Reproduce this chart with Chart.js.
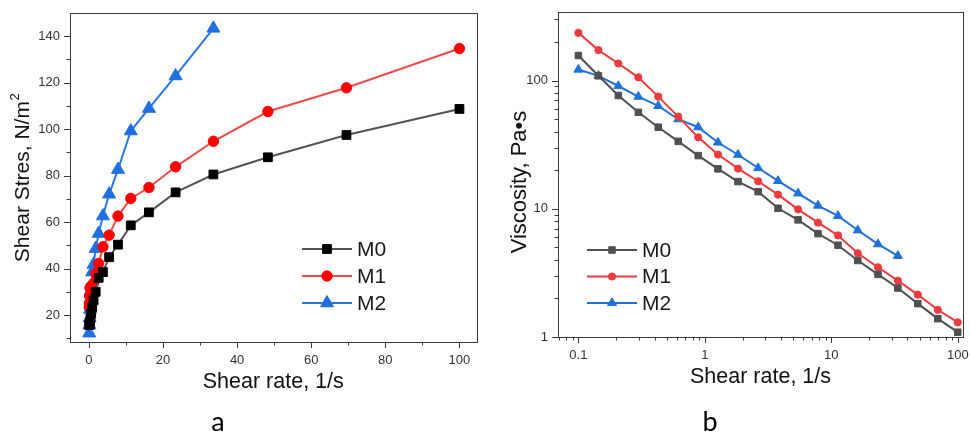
<!DOCTYPE html>
<html>
<head>
<meta charset="utf-8">
<script src="https://cdn.jsdelivr.net/npm/chart.js@4.4.1/dist/chart.umd.min.js"></script>
<style>
	html, body { margin: 0; padding: 0; background: #fff; }
	#wrap { position: relative; width: 971px; height: 433px; overflow: hidden; }
	#stressChart { position: absolute; left: 0; top: 0; }
	#viscosityChart { position: absolute; left: 490px; top: 0; }
</style>
</head>
<body>
<div id="wrap">
	<canvas id="stressChart" width="485" height="433"></canvas>
	<canvas id="viscosityChart" width="481" height="433"></canvas>
</div>
<script>
// shear rates, 1/s (same steps for every sample, M2 stops at 33.6)
const shearRates = [0.1, 0.144, 0.207, 0.298, 0.428, 0.616, 0.886, 1.27, 1.83, 2.64, 3.79, 5.46, 7.85, 11.3, 16.2, 23.4, 33.6, 48.3, 69.5, 100];

// shear stress, N/m2
const stressM0 = [15.7, 15.7, 15.8, 16.9, 18.5, 20.7, 23.3, 26.3, 30.0, 36.0, 38.5, 44.9, 50.3, 58.6, 64.2, 72.8, 80.5, 87.9, 97.5, 108.7];
const stressM1 = [23.4, 24.9, 28.2, 31.6, 32.1, 32.3, 32.0, 33.7, 37.9, 42.2, 49.4, 54.4, 62.6, 70.2, 74.9, 83.8, 94.8, 107.6, 117.8, 134.7];
const stressM2 = [12.2, 15.7, 18.8, 22.4, 27.2, 30.8, 38.5, 41.8, 48.6, 55.1, 62.6, 72.0, 82.6, 99.2, 108.9, 122.9, 143.4];

// viscosity, Pa*s
const viscM0 = [157, 109, 76.5, 56.6, 43.3, 33.6, 26.0, 20.5, 16.3, 13.6, 10.1, 8.2, 6.4, 5.2, 3.95, 3.08, 2.41, 1.82, 1.39, 1.09];
const viscM1 = [236, 173, 136, 106, 75, 52.4, 36.1, 26.5, 20.6, 16.4, 12.9, 9.9, 7.8, 6.2, 4.5, 3.5, 2.75, 2.14, 1.63, 1.30];
const viscM2 = [122, 109, 90.8, 75, 63.5, 50, 43.3, 32.9, 26.4, 20.8, 16.5, 13.2, 10.6, 8.8, 6.8, 5.3, 4.3];

const seriesNames = ['M0', 'M1', 'M2'];

// axis ticks (labelled ones are major)
const rateTicksLin = [0, 10, 20, 30, 40, 50, 60, 70, 80, 90, 100];
const rateLabelsLin = [0, 20, 40, 60, 80, 100];
const stressTicks = [10, 20, 30, 40, 50, 60, 70, 80, 90, 100, 110, 120, 130, 140];
const stressLabels = [20, 40, 60, 80, 100, 120, 140];
const rateTicksLog = [0.07, 0.08, 0.09, 0.1, 0.2, 0.3, 0.4, 0.5, 0.6, 0.7, 0.8, 0.9, 1, 2, 3, 4, 5, 6, 7, 8, 9, 10, 20, 30, 40, 50, 60, 70, 80, 90, 100];
const rateLabelsLog = [0.1, 1, 10, 100];
const viscTicks = [1, 2, 3, 4, 5, 6, 7, 8, 9, 10, 20, 30, 40, 50, 60, 70, 80, 90, 100, 200, 300];
const viscLabels = [1, 10, 100];

const FONT = "'Liberation Sans', Arial, sans-serif";
Chart.defaults.font.family = FONT;
Chart.defaults.color = '#333';

function points(xs, ys) {
	return ys.map((y, i) => ({ x: xs[i], y: y }));
}

// keep the plot box where it is, no room reserved for overhanging labels
function fixX(h) {
	return s => { s.height = h; s.paddingLeft = 0; s.paddingRight = 0; };
}
function fixY(w) {
	return s => { s.width = w; s.paddingTop = 0; s.paddingBottom = 0; };
}

// axis box, tick marks, y title, inline legend and panel letter
const framePlugin = {
	id: 'frame',
	afterDraw(chart, args, opts) {
		const ctx = chart.ctx;
		const a = chart.chartArea;
		ctx.save();
		ctx.strokeStyle = '#3a3a3a';
		ctx.lineWidth = 1;
		ctx.strokeRect(Math.round(a.left) + 0.5, Math.round(a.top) + 0.5, Math.round(a.right - a.left), Math.round(a.bottom - a.top));

		ctx.beginPath();
		const xs = chart.scales.x, ys = chart.scales.y;
		xs.ticks.forEach(t => {
			const px = Math.round(xs.getPixelForValue(t.value)) + 0.5;
			const len = t.label !== '' ? 6 : 3.5;
			ctx.moveTo(px, a.bottom);
			ctx.lineTo(px, a.bottom + len);
		});
		ys.ticks.forEach(t => {
			const py = Math.round(ys.getPixelForValue(t.value)) + 0.5;
			const len = t.label !== '' ? 6 : 3.5;
			ctx.moveTo(a.left, py);
			ctx.lineTo(a.left - len, py);
		});
		ctx.stroke();

		// rotated y title, optional superscript after it
		ctx.save();
		ctx.translate(opts.yTitleX, opts.yTitleY);
		ctx.rotate(-Math.PI / 2);
		ctx.fillStyle = '#111';
		ctx.font = opts.yTitleSize + 'px ' + FONT;
		ctx.textBaseline = 'middle';
		const supFont = Math.round(opts.yTitleSize * 0.62) + 'px ' + FONT;
		let w = ctx.measureText(opts.yTitle).width;
		let sw = 0;
		if (opts.yTitleSup) {
			ctx.font = supFont;
			sw = ctx.measureText(opts.yTitleSup).width;
			ctx.font = opts.yTitleSize + 'px ' + FONT;
		}
		ctx.textAlign = 'left';
		const start = -(w + sw) / 2;
		ctx.fillText(opts.yTitle, start, 0);
		if (opts.yTitleSup) {
			ctx.font = supFont;
			ctx.fillText(opts.yTitleSup, start + w + 0.5, -opts.yTitleSize * 0.38);
		}
		ctx.restore();

		// legend: short line with the marker in the middle, then the name
		chart.data.datasets.forEach((ds, i) => {
			const y = opts.legendY + i * opts.legendGap;
			const x0 = opts.legendX, x1 = opts.legendX + opts.legendLen;
			ctx.strokeStyle = ds.borderColor;
			ctx.lineWidth = ds.borderWidth;
			ctx.beginPath();
			ctx.moveTo(x0, y);
			ctx.lineTo(x1, y);
			ctx.stroke();
			ctx.fillStyle = ds.pointBackgroundColor;
			ctx.strokeStyle = ds.pointBorderColor;
			ctx.lineWidth = 1;
			Chart.helpers.drawPoint(ctx, {
				pointStyle: ds.pointStyle,
				radius: ds.pointRadius,
				borderWidth: 1,
				rotation: 0
			}, (x0 + x1) / 2, y);
			ctx.fillStyle = '#1a1a1a';
			ctx.font = opts.legendFont + 'px ' + FONT;
			ctx.textBaseline = 'middle';
			ctx.textAlign = 'left';
			ctx.fillText(ds.label, x1 + 5, y + 1);
		});

		ctx.fillStyle = '#000';
		ctx.font = "27px Lato, 'Liberation Sans', sans-serif";
		ctx.textAlign = 'center';
		ctx.textBaseline = 'alphabetic';
		ctx.fillText(opts.letter, opts.letterX, 431);
		ctx.restore();
	}
};

function lineSet(label, data, line, marker, style, radius) {
	return {
		label: label,
		data: data,
		borderColor: line,
		borderWidth: 2,
		pointStyle: style,
		pointRadius: radius,
		pointHoverRadius: radius,
		pointBackgroundColor: marker,
		pointBorderColor: marker,
		pointBorderWidth: 1,
		tension: 0,
		fill: false
	};
}

const noGrid = { display: false, drawTicks: false, tickLength: 0 };

// a: shear stress against shear rate, linear axes
let stressChart = new Chart(document.getElementById('stressChart').getContext('2d'), {
	type: 'line',
	data: {
		datasets: [
			lineSet(seriesNames[0], points(shearRates, stressM0), '#545454', '#000000', 'rect', 6.2),
			lineSet(seriesNames[1], points(shearRates, stressM1), '#f24a4a', '#ff0000', 'circle', 5.2),
			lineSet(seriesNames[2], points(shearRates, stressM2), '#2a78de', '#1f6fe0', 'triangle', 7.5)
		]
	},
	options: {
		responsive: false,
		animation: false,
		devicePixelRatio: 1,
		layout: { padding: { left: 0, top: 13, right: 5, bottom: 33 } },
		plugins: {
			legend: { display: false },
			tooltip: { enabled: false },
			frame: {
				legendX: 302, legendY: 249, legendGap: 27, legendLen: 50, legendFont: 21,
				yTitle: 'Shear Stres, N/m', yTitleSup: '2', yTitleSize: 21, yTitleX: 23, yTitleY: 178,
				letter: 'a', letterX: 218
			}
		},
		scales: {
			x: {
				type: 'linear',
				min: -5.1,
				max: 104.6,
				afterFit: fixX(58),
				afterBuildTicks: s => { s.ticks = rateTicksLin.map(v => ({ value: v })); },
				grid: noGrid,
				border: { display: false },
				ticks: {
					font: { size: 13 },
					color: '#333',
					padding: 11,
					maxRotation: 0,
					callback: v => rateLabelsLin.includes(v) ? String(v) : ''
				},
				title: { display: true, text: 'Shear rate, 1/s', color: '#111', font: { size: 21.5 }, padding: { top: 0, bottom: 5 } }
			},
			y: {
				type: 'linear',
				min: 8.4,
				max: 150,
				afterFit: fixY(70),
				afterBuildTicks: s => { s.ticks = stressTicks.map(v => ({ value: v })); },
				grid: noGrid,
				border: { display: false },
				ticks: {
					font: { size: 13 },
					color: '#333',
					padding: 10,
					callback: v => stressLabels.includes(v) ? String(v) : ''
				}
			}
		}
	},
	plugins: [framePlugin]
});

// b: viscosity against shear rate, log-log
let viscosityChart = new Chart(document.getElementById('viscosityChart').getContext('2d'), {
	type: 'line',
	data: {
		datasets: [
			lineSet(seriesNames[0], points(shearRates, viscM0), '#505050', '#505050', 'rect', 4.6),
			lineSet(seriesNames[1], points(shearRates, viscM1), '#ec3b3e', '#ec3b3e', 'circle', 3.6),
			lineSet(seriesNames[2], points(shearRates, viscM2), '#1f72d9', '#1f72d9', 'triangle', 5.2)
		]
	},
	options: {
		responsive: false,
		animation: false,
		devicePixelRatio: 1,
		layout: { padding: { left: 0, top: 12, right: 8, bottom: 33 } },
		plugins: {
			legend: { display: false },
			tooltip: { enabled: false },
			frame: {
				legendX: 97, legendY: 250, legendGap: 26.5, legendLen: 50, legendFont: 21,
				yTitle: 'Viscosity, Pa•s', yTitleSize: 22, yTitleX: 30, yTitleY: 182,
				letter: 'b', letterX: 220
			}
		},
		scales: {
			x: {
				type: 'logarithmic',
				min: 0.069,
				max: 110,
				afterFit: fixX(63),
				afterBuildTicks: s => { s.ticks = rateTicksLog.map(v => ({ value: v })); },
				grid: noGrid,
				border: { display: false },
				ticks: {
					font: { size: 13 },
					color: '#333',
					padding: 11,
					maxRotation: 0,
					autoSkip: false,
					callback: v => rateLabelsLog.includes(v) ? String(v) : ''
				},
				title: { display: true, text: 'Shear rate, 1/s', color: '#111', font: { size: 21.5 }, padding: { top: 0, bottom: 10 } }
			},
			y: {
				type: 'logarithmic',
				min: 1,
				max: 343,
				afterFit: fixY(68),
				afterBuildTicks: s => { s.ticks = viscTicks.map(v => ({ value: v })); },
				grid: noGrid,
				border: { display: false },
				ticks: {
					font: { size: 13 },
					color: '#333',
					padding: 10,
					autoSkip: false,
					callback: v => viscLabels.includes(v) ? String(v) : ''
				}
			}
		}
	},
	plugins: [framePlugin]
});
</script>
</body>
</html>
